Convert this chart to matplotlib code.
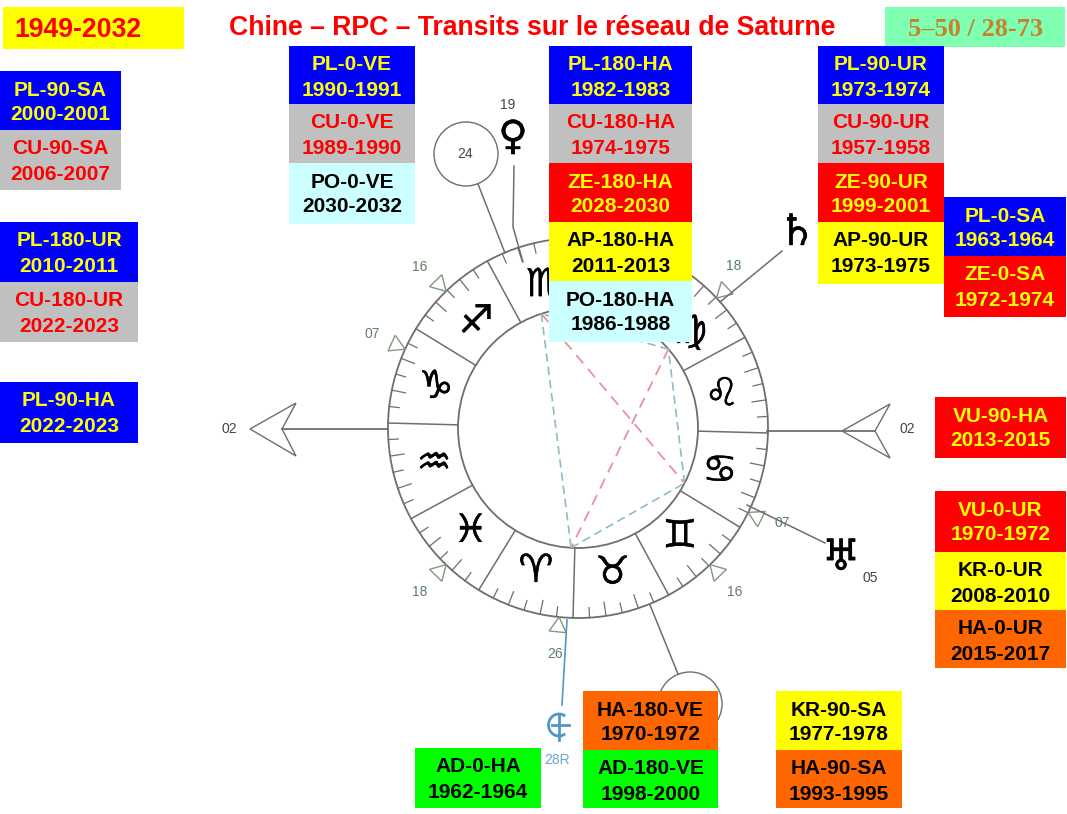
import numpy as np
import matplotlib
matplotlib.use("Agg")
import matplotlib.pyplot as plt
import matplotlib.patheffects as pe
from matplotlib.patches import Rectangle, Circle, Polygon, Arc

# aspect boxes: label, years
labels = ["PL-90-SA", "CU-90-SA", "PL-180-UR", "CU-180-UR", "PL-90-HA",
          "PL-0-VE", "CU-0-VE", "PO-0-VE",
          "PL-180-HA", "CU-180-HA", "ZE-180-HA", "AP-180-HA", "PO-180-HA",
          "PL-90-UR", "CU-90-UR", "ZE-90-UR", "AP-90-UR",
          "PL-0-SA", "ZE-0-SA", "VU-90-HA",
          "VU-0-UR", "KR-0-UR", "HA-0-UR",
          "AD-0-HA", "HA-180-VE", "AD-180-VE", "KR-90-SA", "HA-90-SA"]
years = ["2000-2001", "2006-2007", "2010-2011", "2022-2023", "2022-2023",
         "1990-1991", "1989-1990", "2030-2032",
         "1982-1983", "1974-1975", "2028-2030", "2011-2013", "1986-1988",
         "1973-1974", "1957-1958", "1999-2001", "1973-1975",
         "1963-1964", "1972-1974", "2013-2015",
         "1970-1972", "2008-2010", "2015-2017",
         "1962-1964", "1970-1972", "1998-2000", "1977-1978", "1993-1995"]

# box layout in pixels: left, top, right, bottom
box_px = [(0, 71, 121, 130), (0, 130, 121, 190), (0, 222, 138, 282), (0, 282, 138, 342), (0, 382, 138, 443),
          (289, 46, 415, 104), (289, 104, 415, 163), (289, 163, 415, 224),
          (549, 46, 692, 104), (549, 104, 692, 163), (549, 163, 692, 222), (549, 222, 692, 281), (549, 281, 692, 342),
          (818, 46, 944, 104), (818, 104, 944, 163), (818, 163, 944, 222), (818, 222, 944, 284),
          (944, 197, 1066, 256), (944, 256, 1066, 317), (935, 397, 1066, 458),
          (935, 491, 1066, 552), (935, 552, 1066, 610), (935, 610, 1066, 668),
          (415, 748, 541, 808), (583, 691, 718, 750), (583, 750, 718, 808), (776, 691, 902, 750), (776, 750, 902, 808)]

# planet prefix -> fill and text colour
styles = {"PL": ("#0000ff", "#ffff00"), "CU": ("#c0c0c0", "#ff0000"), "ZE": ("#ff0000", "#ffff00"),
          "VU": ("#ff0000", "#ffff00"), "AP": ("#ffff00", "#000000"), "KR": ("#ffff00", "#000000"),
          "PO": ("#ccffff", "#000000"), "HA": ("#ff6600", "#000000"), "AD": ("#00ff00", "#000000")}

# zodiac wheel, libra is hidden behind the boxes in the reference
signs = ["♒", "♓", "♈", "♉", "♊", "♋", "♌", "♍", "♏", "♐", "♑"]
sign_deg = [193.5, 223.5, 253.5, 283.5, 313.5, 343.5, 13.5, 41, 103.5, 133.5, 163.5]

# small triangles on the rim
tri_deg = [134, 155.5, 43.2, -26.4, -46, -134, -95.7]
tri_txt = ["16", "07", "18", "07", "16", "18", "26"]
tri_txt_px = [(420, 267), (372, 334), (734, 266), (782, 523), (735, 592), (420, 592), (555, 654)]

# aspect lines on the inner circle
aspect_pink = [(107.8, -27.4), (41.1, -93.3)]
aspect_blue = [(107.8, -93.3), (-93.3, -27.4), (-27.4, 41.1), (41.1, 107.8)]

CX, CY = 578, 428
R_OUT, R_IN = 190, 120
LINE = "#6e6e6e"
GREEN = "#7f9a80"
BOLDER = [pe.withStroke(linewidth=0.3, foreground="black")]


def pol(deg, r):
    a = np.deg2rad(deg)
    return CX + r * np.cos(a), CY - r * np.sin(a)


def small(x, y, s, color="#444444"):
    ax.text(x, y, s, fontsize=10, family="Liberation Sans", color=color, ha="center", va="center")


def glyph(x, y, s, size):
    ax.text(x, y, s, fontsize=size, family="DejaVu Sans", ha="center", va="center", color="black", path_effects=BOLDER)


fig = plt.figure(figsize=(10.67, 8.14), dpi=100)
ax = fig.add_axes([0, 0, 1, 1])
ax.set_xlim(0, 1067)
ax.set_ylim(814, 0)
ax.axis("off")

# wheel
ax.add_patch(Circle((CX, CY), R_OUT, fc="white", ec=LINE, lw=1.3))
ax.add_patch(Circle((CX, CY), R_IN, fc="white", ec=LINE, lw=1.3))
for k in range(12):
    d = -1.5 + 30 * k
    x0, y0 = pol(d, R_IN)
    x1, y1 = pol(d, R_OUT)
    ax.plot([x0, x1], [y0, y1], color=LINE, lw=1.1)
    for j in range(1, 6):
        ln = 14 if j % 2 == 0 else 10
        x0, y0 = pol(d + 5 * j, R_OUT - ln)
        x1, y1 = pol(d + 5 * j, R_OUT)
        ax.plot([x0, x1], [y0, y1], color=LINE, lw=0.9)

for s, d in zip(signs, sign_deg):
    x, y = pol(d, 148)
    glyph(x, y + 1, s, 28)

for a, b in aspect_blue:
    p, q = pol(a, R_IN), pol(b, R_IN)
    ax.plot([p[0], q[0]], [p[1], q[1]], color="#8fbac6", lw=1.2, ls=(0, (5, 3)))
for a, b in aspect_pink:
    p, q = pol(a, R_IN), pol(b, R_IN)
    ax.plot([p[0], q[0]], [p[1], q[1]], color="#e98fa2", lw=1.3, ls=(0, (6, 4)))

# rim triangles and their degrees
for d, t, (tx, ty) in zip(tri_deg, tri_txt, tri_txt_px):
    x0, y0 = pol(d, R_OUT)
    x1, y1 = pol(d - 2.4, R_OUT + 15)
    x2, y2 = pol(d + 2.4, R_OUT + 15)
    ax.add_patch(Polygon([(x0, y0), (x1, y1), (x2, y2)], closed=True, fc="none", ec=GREEN, lw=1.0))
    small(tx, ty, t, "#5f7f62")

# asc / mc style arrows
ax.plot([282, 388], [429, 429], color=LINE, lw=1.3)
ax.add_patch(Polygon([(250, 429), (296, 403), (282, 429), (296, 456)], closed=True, fc="white", ec=LINE, lw=1.0))
small(229, 429, "02")
ax.plot([767, 875], [431, 431], color=LINE, lw=1.3)
ax.add_patch(Polygon([(842, 431), (890, 404), (875, 431), (890, 458)], closed=True, fc="white", ec=LINE, lw=1.0))
small(907, 429, "02")

# planets outside the wheel
ax.add_patch(Circle((466, 154), 32, fc="white", ec=LINE, lw=1.0))
small(465, 154, "24")
ax.plot([478, 505], [184, 253], color=LINE, lw=1.1)

glyph(513, 138, "♀", 29)
small(508, 105, "19")
ax.plot([514, 513, 523], [166, 227, 262], color=LINE, lw=1.1)

glyph(797, 233, "♄", 31)
ax.plot([782, 720], [251, 302], color=LINE, lw=1.1)

glyph(841, 558, "♅", 31)
small(870, 578, "05")
ax.plot([825, 747], [543, 505], color=LINE, lw=1.1)

ax.add_patch(Circle((690, 704), 32, fc="white", ec=LINE, lw=1.0))
ax.plot([650, 678], [605, 674], color=LINE, lw=1.1)

# node glyph, blue
NODE = "#4f97c6"
ax.plot([567, 562], [620, 705], color=NODE, lw=1.2)
ax.add_patch(Arc((559, 725), 21, 22, theta1=55, theta2=305, ec=NODE, lw=2.0))
ax.plot([559, 559], [714, 740], color=NODE, lw=2.0)
ax.plot([552, 569], [725, 725], color=NODE, lw=2.0)
small(557, 760, "28R", "#6da6cc")

# aspect boxes sit on top of the wheel
for lab, yr, (l, t, r, b) in zip(labels, years, box_px):
    fill, col = styles[lab[:2]]
    ax.add_patch(Rectangle((l, t), r - l, b - t, fc=fill, ec="none", zorder=5))
    xm = (l + r) / 2
    ax.text(xm, t + 19, lab, fontsize=15, family="Liberation Sans", weight="bold", color=col,
            ha="center", va="center", zorder=6)
    ax.text(xm, t + 44, yr, fontsize=15, family="Liberation Sans", weight="bold", color=col,
            ha="center", va="center", zorder=6)

# header
ax.add_patch(Rectangle((3, 7), 181, 42, fc="#ffff00", ec="none"))
ax.text(78, 30, "1949-2032", fontsize=19.2, family="Liberation Sans", weight="bold", color="#ff0000", ha="center", va="center")
ax.text(532, 28, "Chine – RPC – Transits sur le réseau de Saturne", fontsize=19.2, family="Liberation Sans",
        weight="bold", color="#ff0000", ha="center", va="center")
ax.add_patch(Rectangle((885, 7), 180, 40, fc="#7fffb2", ec="none"))
ax.text(975, 29, "5–50 / 28-73", fontsize=19, family="Liberation Serif", weight="bold", color="#c8802a", ha="center", va="center")

fig.savefig("out.png", dpi=100)
